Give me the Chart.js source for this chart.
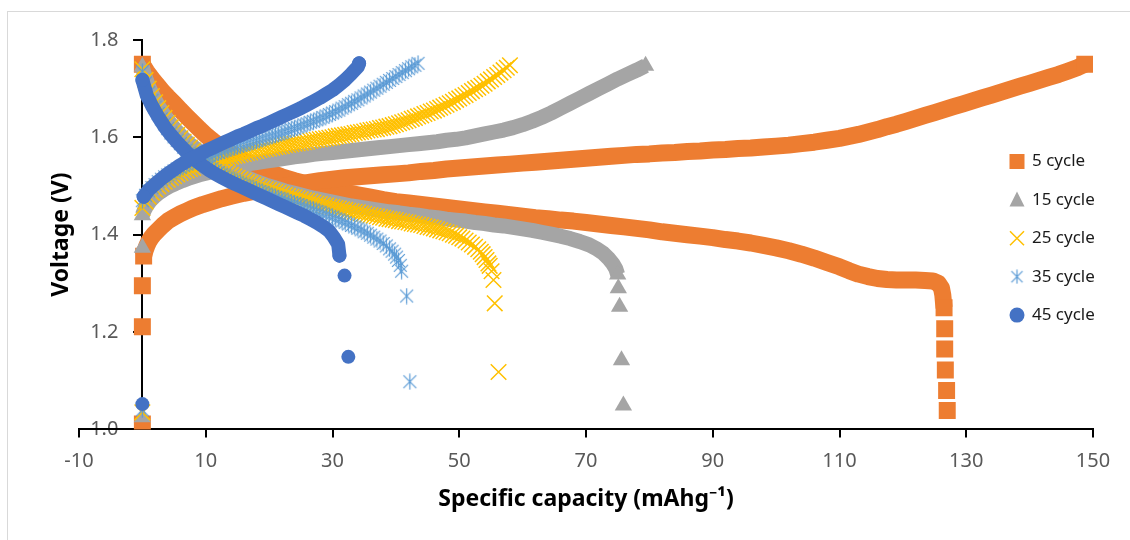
<!DOCTYPE html>
<html>
<head>
<meta charset="utf-8">
<title>Voltage vs specific capacity</title>
<script src="https://cdn.jsdelivr.net/npm/chart.js@4.4.1/dist/chart.umd.min.js"></script>
<style>
  html, body { margin: 0; padding: 0; background: #fff; }
  #wrap { width: 1130px; height: 540px; }
</style>
</head>
<body>
<div id="wrap"><canvas id="cap-chart" width="1130" height="540"></canvas></div>
<script>
/* ============================================
   Charge / discharge curves, cycles 5 - 45
   ============================================ */

const seriesNames = ['5 cycle', '15 cycle', '25 cycle', '35 cycle', '45 cycle'];

// [specific capacity (mAh/g), voltage (V)]
// chgN / disN = continuous runs of markers, loneN = isolated markers
const chg5 = [[0.2,1.356],[0.4,1.366],[0.7,1.377],[1,1.386],[1.4,1.394],[1.9,1.402],[2.5,1.41],[3.2,1.419],[4,1.428],[5,1.436],[6,1.443],[7,1.449],[8,1.455],[9.5,1.462],[11,1.468],[12.5,1.474],[14,1.479],[16,1.485],[18,1.49],[20,1.495],[22,1.499],[24,1.503],[26,1.507],[28,1.511],[30,1.514],[32,1.517],[34,1.519],[36,1.521],[38,1.523],[40,1.525],[42,1.527],[44,1.53],[46,1.532],[48,1.535],[50,1.537],[52,1.539],[54,1.541],[56,1.543],[58,1.545],[60,1.547],[62,1.549],[64,1.551],[66,1.553],[68,1.555],[70,1.557],[72,1.559],[74,1.561],[76,1.563],[78,1.565],[80,1.566],[82,1.568],[84,1.569],[86,1.571],[88,1.572],[90,1.574],[92,1.575],[94,1.577],[96,1.578],[98,1.58],[100,1.582],[102,1.584],[104,1.587],[106,1.59],[108,1.594],[110,1.598],[111.5,1.602],[113,1.606],[114.5,1.611],[116,1.616],[117.5,1.622],[119,1.627],[120.5,1.633],[122,1.639],[123.5,1.645],[125,1.651],[126.5,1.657],[128,1.663],[129.5,1.669],[131,1.675],[132.5,1.681],[134,1.687],[135.5,1.693],[137,1.699],[138.5,1.705],[140,1.711],[141.5,1.717],[143,1.723],[144.5,1.729],[146,1.736],[147.5,1.743],[148.7,1.75]];
const dis5 = [[0,1.75],[0.3,1.743],[0.7,1.735],[1.2,1.726],[1.8,1.716],[2.5,1.705],[3.2,1.694],[4,1.683],[5,1.67],[6,1.656],[7,1.643],[8,1.63],[9,1.617],[10,1.605],[11,1.594],[12,1.584],[13,1.575],[14.5,1.563],[16,1.552],[17.5,1.542],[19,1.534],[20.5,1.526],[22,1.519],[24,1.511],[26,1.504],[28,1.498],[30,1.492],[32,1.487],[34,1.482],[36,1.477],[38,1.472],[40,1.468],[42,1.465],[44,1.462],[46,1.459],[48,1.456],[50,1.453],[52,1.45],[54,1.447],[56,1.444],[58,1.441],[60,1.438],[62,1.435],[64,1.433],[66,1.43],[68,1.428],[70,1.425],[72,1.422],[74,1.419],[76,1.416],[78,1.413],[80,1.41],[82,1.406],[84,1.403],[86,1.4],[88,1.397],[90,1.394],[92,1.39],[94,1.387],[96,1.383],[98,1.378],[100,1.373],[102,1.367],[104,1.36],[106,1.352],[108,1.343],[110,1.334],[111.5,1.326],[113,1.319],[114.5,1.314],[116,1.31],[117.5,1.308],[119,1.307],[120.5,1.307],[122,1.307],[123.5,1.306],[124.7,1.305],[125.6,1.3],[126.1,1.29],[126.3,1.276],[126.4,1.262],[126.5,1.25]];
const lone5 = [[0,1.011],[0,1.211],[0,1.295],[126.6,1.207],[126.6,1.165],[126.7,1.122],[126.9,1.08],[127,1.039]];

const chg15 = [[0,1.44],[0.3,1.45],[0.7,1.46],[1.2,1.469],[1.8,1.477],[2.5,1.485],[3.3,1.492],[4.2,1.499],[5.2,1.505],[6.3,1.511],[7.5,1.517],[9,1.523],[10.5,1.528],[12,1.533],[13.5,1.537],[15,1.541],[16.5,1.545],[18,1.548],[19.5,1.551],[21,1.554],[22.5,1.557],[24,1.56],[25.5,1.562],[27,1.565],[28.5,1.567],[30,1.569],[31.5,1.571],[33,1.573],[34.5,1.575],[36,1.577],[37.5,1.579],[39,1.581],[40.5,1.583],[42,1.585],[43.5,1.587],[45,1.589],[46.5,1.591],[48,1.594],[49.5,1.596],[51,1.599],[52.5,1.603],[54,1.607],[55.5,1.611],[57,1.615],[58.5,1.62],[60,1.626],[61.5,1.633],[63,1.641],[64.5,1.65],[66,1.66],[67.5,1.67],[69,1.68],[70.5,1.69],[72,1.7],[73.5,1.71],[75,1.72],[76.5,1.729],[78,1.738],[79.4,1.747]];
const dis15 = [[0,1.745],[0.3,1.73],[0.7,1.715],[1.2,1.698],[1.8,1.682],[2.5,1.665],[3.3,1.648],[4.2,1.632],[5.2,1.616],[6.3,1.601],[7.5,1.586],[9,1.571],[10.5,1.557],[12,1.545],[13.5,1.535],[15,1.525],[16.5,1.517],[18,1.509],[19.5,1.502],[21,1.496],[22.5,1.49],[24,1.485],[25.5,1.48],[27,1.475],[28.5,1.471],[30,1.467],[31.5,1.463],[33,1.459],[34.5,1.456],[36,1.453],[37.5,1.45],[39,1.447],[40.5,1.445],[42,1.442],[43.5,1.44],[45,1.437],[46.5,1.435],[48,1.432],[49.5,1.43],[51,1.428],[52.5,1.425],[54,1.423],[55.5,1.42],[57,1.418],[58.5,1.415],[60,1.412],[61.5,1.409],[63,1.405],[64.5,1.401],[66,1.397],[67.5,1.392],[69,1.386],[70.5,1.379],[71.7,1.371],[72.7,1.362],[73.5,1.352],[74.2,1.341],[74.7,1.33],[75,1.318]];
const lone15 = [[0,1.025],[0,1.373],[75.1,1.29],[75.3,1.252],[75.6,1.142],[75.9,1.049]];

const chg25 = [[0,1.455],[0.5,1.468],[1,1.478],[1.5,1.486],[2,1.493],[2.5,1.499],[3,1.504],[3.5,1.509],[4,1.513],[4.5,1.517],[5,1.52],[5.5,1.524],[6,1.527],[6.5,1.53],[7,1.532],[7.5,1.535],[8,1.537],[8.5,1.54],[9,1.542],[9.5,1.544],[10,1.546],[10.5,1.548],[11,1.55],[11.5,1.552],[12,1.553],[12.5,1.555],[13,1.557],[13.5,1.559],[14,1.56],[14.5,1.562],[15,1.563],[15.5,1.565],[16,1.566],[16.5,1.568],[17,1.569],[17.5,1.571],[18,1.572],[18.5,1.574],[19,1.575],[19.5,1.576],[20,1.577],[20.5,1.579],[21,1.58],[21.5,1.581],[22,1.582],[22.5,1.584],[23,1.585],[23.5,1.586],[24,1.587],[24.5,1.588],[25,1.589],[25.5,1.59],[26,1.591],[26.5,1.593],[27,1.594],[27.5,1.595],[28,1.596],[28.5,1.597],[29,1.598],[29.5,1.599],[30,1.6],[30.5,1.602],[31,1.603],[31.5,1.604],[32,1.605],[32.5,1.606],[33,1.607],[33.5,1.609],[34,1.61],[34.5,1.611],[35,1.612],[35.5,1.614],[36,1.615],[36.5,1.616],[37,1.617],[37.5,1.619],[38,1.62],[38.5,1.622],[39,1.623],[39.5,1.625],[40,1.627],[40.5,1.629],[41,1.631],[41.5,1.633],[42,1.635],[42.5,1.638],[43,1.64],[43.5,1.643],[44,1.645],[44.5,1.648],[45,1.65],[45.5,1.653],[46,1.655],[46.5,1.658],[47,1.661],[47.5,1.664],[48,1.667],[48.5,1.67],[49,1.673],[49.5,1.677],[50,1.68],[50.5,1.684],[51,1.687],[51.5,1.691],[52,1.695],[52.5,1.699],[53,1.702],[53.5,1.706],[54,1.71],[54.5,1.715],[55,1.719],[55.5,1.724],[56,1.728],[56.5,1.733],[57,1.738],[57.5,1.743],[58,1.748]];
const dis25 = [[0,1.74],[0.5,1.718],[1,1.7],[1.5,1.685],[2,1.672],[2.5,1.66],[3,1.65],[3.5,1.64],[4,1.63],[4.5,1.621],[5,1.613],[5.5,1.605],[6,1.598],[6.5,1.591],[7,1.585],[7.5,1.579],[8,1.573],[8.5,1.568],[9,1.563],[9.5,1.558],[10,1.553],[10.5,1.549],[11,1.545],[11.5,1.541],[12,1.537],[12.5,1.533],[13,1.53],[13.5,1.526],[14,1.523],[14.5,1.52],[15,1.517],[15.5,1.514],[16,1.511],[16.5,1.508],[17,1.506],[17.5,1.503],[18,1.501],[18.5,1.498],[19,1.496],[19.5,1.494],[20,1.492],[20.5,1.49],[21,1.488],[21.5,1.486],[22,1.484],[22.5,1.482],[23,1.48],[23.5,1.478],[24,1.477],[24.5,1.475],[25,1.473],[25.5,1.471],[26,1.47],[26.5,1.468],[27,1.466],[27.5,1.464],[28,1.463],[28.5,1.461],[29,1.46],[29.5,1.458],[30,1.457],[30.5,1.455],[31,1.454],[31.5,1.452],[32,1.451],[32.5,1.449],[33,1.448],[33.5,1.447],[34,1.446],[34.5,1.444],[35,1.443],[35.5,1.441],[36,1.44],[36.5,1.439],[37,1.438],[37.5,1.436],[38,1.435],[38.5,1.433],[39,1.432],[39.5,1.431],[40,1.43],[40.5,1.428],[41,1.427],[41.5,1.426],[42,1.425],[42.5,1.423],[43,1.422],[43.5,1.421],[44,1.42],[44.5,1.418],[45,1.416],[45.5,1.415],[46,1.413],[46.5,1.411],[47,1.409],[47.5,1.407],[48,1.405],[48.5,1.403],[49,1.4],[49.5,1.398],[50,1.395],[50.5,1.392],[51,1.388],[51.5,1.384],[52,1.38],[52.5,1.375],[53,1.37],[53.4,1.365],[53.7,1.36],[54,1.354],[54.3,1.348],[54.6,1.341],[54.8,1.336],[55.1,1.325]];
const lone25 = [[0,1.035],[55.4,1.307],[55.6,1.259],[56.2,1.118]];

const chg35 = [[0,1.47],[0.5,1.481],[1,1.49],[1.5,1.497],[2,1.503],[2.5,1.509],[3,1.514],[3.5,1.519],[4,1.523],[4.5,1.527],[5,1.531],[5.5,1.535],[6,1.538],[6.5,1.542],[7,1.545],[7.5,1.548],[8,1.551],[8.5,1.554],[9,1.556],[9.5,1.559],[10,1.561],[10.5,1.563],[11,1.565],[11.5,1.567],[12,1.569],[12.5,1.572],[13,1.574],[13.5,1.576],[14,1.578],[14.5,1.58],[15,1.582],[15.5,1.584],[16,1.585],[16.5,1.587],[17,1.589],[17.5,1.591],[18,1.593],[18.5,1.595],[19,1.597],[19.5,1.599],[20,1.601],[20.5,1.603],[21,1.605],[21.5,1.607],[22,1.609],[22.5,1.612],[23,1.614],[23.5,1.616],[24,1.618],[24.5,1.621],[25,1.623],[25.5,1.626],[26,1.628],[26.5,1.631],[27,1.633],[27.5,1.636],[28,1.638],[28.5,1.641],[29,1.644],[29.5,1.647],[30,1.65],[30.5,1.653],[31,1.656],[31.5,1.66],[32,1.663],[32.5,1.667],[33,1.67],[33.5,1.674],[34,1.677],[34.5,1.681],[35,1.685],[35.5,1.689],[36,1.693],[36.5,1.697],[37,1.701],[37.5,1.705],[38,1.709],[38.5,1.713],[39,1.717],[39.5,1.721],[40,1.725],[40.5,1.729],[41,1.733],[41.5,1.737],[42,1.741],[42.5,1.745],[43,1.748],[43.5,1.752]];
const dis35 = [[0,1.735],[0.5,1.712],[1,1.692],[1.5,1.676],[2,1.662],[2.5,1.649],[3,1.638],[3.5,1.628],[4,1.618],[4.5,1.609],[5,1.601],[5.5,1.594],[6,1.587],[6.5,1.58],[7,1.574],[7.5,1.568],[8,1.563],[8.5,1.558],[9,1.553],[9.5,1.548],[10,1.544],[10.5,1.54],[11,1.536],[11.5,1.532],[12,1.528],[12.5,1.524],[13,1.521],[13.5,1.517],[14,1.514],[14.5,1.511],[15,1.508],[15.5,1.505],[16,1.502],[16.5,1.5],[17,1.497],[17.5,1.494],[18,1.492],[18.5,1.489],[19,1.487],[19.5,1.484],[20,1.482],[20.5,1.479],[21,1.477],[21.5,1.475],[22,1.473],[22.5,1.47],[23,1.468],[23.5,1.466],[24,1.464],[24.5,1.462],[25,1.46],[25.5,1.457],[26,1.455],[26.5,1.453],[27,1.451],[27.5,1.448],[28,1.446],[28.5,1.443],[29,1.441],[29.5,1.438],[30,1.436],[30.5,1.433],[31,1.431],[31.5,1.428],[32,1.425],[32.5,1.422],[33,1.419],[33.5,1.416],[34,1.413],[34.5,1.41],[35,1.406],[35.5,1.403],[36,1.399],[36.5,1.395],[37,1.391],[37.5,1.387],[38,1.382],[38.5,1.377],[39,1.371],[39.4,1.366],[39.8,1.36],[40.1,1.354],[40.4,1.347],[40.7,1.337],[40.9,1.325]];
const lone35 = [[0,1.04],[41.7,1.274],[42.2,1.098]];

const chg45 = [[0.2,1.478],[1,1.492],[2,1.504],[3,1.515],[4,1.525],[5,1.534],[6,1.543],[7,1.551],[8,1.558],[9,1.565],[10,1.572],[11,1.578],[12,1.584],[13,1.59],[14,1.596],[15,1.602],[16,1.607],[17,1.613],[18,1.619],[19,1.624],[20,1.63],[21,1.636],[22,1.642],[23,1.648],[24,1.654],[25,1.66],[26,1.667],[27,1.674],[28,1.681],[29,1.689],[30,1.697],[31,1.707],[32,1.718],[33,1.731],[34,1.745],[34.2,1.752]];
const dis45 = [[0,1.718],[0.7,1.686],[1.5,1.665],[2.5,1.642],[3.5,1.622],[4.5,1.605],[5.5,1.59],[6.5,1.576],[7.5,1.563],[8.5,1.552],[9.5,1.542],[10.5,1.533],[11.5,1.525],[12.5,1.518],[13.5,1.511],[14.5,1.505],[15.5,1.499],[16.5,1.493],[17.5,1.487],[18.5,1.481],[19.5,1.475],[20.5,1.469],[21.5,1.463],[22.5,1.457],[23.5,1.451],[24.5,1.445],[25.5,1.439],[26.5,1.432],[27.5,1.425],[28.5,1.417],[29.5,1.407],[30.2,1.395],[30.9,1.38],[31.1,1.357]];
const lone45 = [[0,1.052],[31.9,1.316],[32.5,1.149]];

const capRange = [-10, 150];
const voltRange = [1.0, 1.8];

// Excel-style asterisk marker (vertical bar + X)
function makeAsterisk(size, color, lw) {
    const c = document.createElement('canvas');
    c.width = size; c.height = size;
    const g = c.getContext('2d');
    const m = size / 2, a = size / 2 - 0.5, d = a * 0.8;
    g.strokeStyle = color;
    g.lineWidth = lw;
    g.beginPath();
    g.moveTo(m, m - a); g.lineTo(m, m + a);
    g.moveTo(m - d, m - d); g.lineTo(m + d, m + d);
    g.moveTo(m + d, m - d); g.lineTo(m - d, m + d);
    g.stroke();
    return c;
}

const starMark = makeAsterisk(17, '#5B9BD5', 1.2);
const starLegend = makeAsterisk(15, '#5B9BD5', 1.2);

// band = width of the solid trail the packed markers leave (0 = hollow marker, no trail)
const styles = [
    { color: '#ED7D31', pointStyle: 'rect', radius: 12, borderWidth: 0, band: 17, cap: 'butt' },
    { color: '#A5A5A5', pointStyle: 'triangle', radius: 10, borderWidth: 0, band: 15, cap: 'butt' },
    { color: '#FFC000', pointStyle: 'crossRot', radius: 11, borderWidth: 1.5, band: 0 },
    { color: '#5B9BD5', pointStyle: starMark, radius: 9, borderWidth: 1.2, band: 0 },
    { color: '#4472C4', pointStyle: 'circle', radius: 7, borderWidth: 0, band: 14, cap: 'round' }
];

const curves = [
    [chg5, dis5, lone5], [chg15, dis15, lone15], [chg25, dis25, lone25],
    [chg35, dis35, lone35], [chg45, dis45, lone45]
];
const toPts = arr => arr.map(([x, y]) => ({ x, y }));
const ends = run => [run[0], run[run.length - 1]];

const datasets = [];
seriesNames.forEach((name, i) => {
    const st = styles[i];
    const [chg, dis, lone] = curves[i];
    const rank = 2 * (seriesNames.length - i);   // later cycles drawn on top, like Excel
    // solid markers: the run is drawn as a trail, markers only where they stand out
    const marks = st.band ? lone.concat(ends(chg), ends(dis)) : chg.concat(dis, lone);
    datasets.push({
        label: name,
        data: toPts(marks),
        pointStyle: st.pointStyle,
        pointRadius: st.radius,
        pointBackgroundColor: st.color,
        pointBorderColor: st.color,
        pointBorderWidth: st.borderWidth,
        showLine: false,
        order: rank - 1
    });
    if (st.band) {
        [chg, dis].forEach(run => datasets.push({
            label: name + ' trail',
            data: toPts(run),
            showLine: true,
            pointRadius: 0,
            borderColor: st.color,
            borderWidth: st.band,
            borderCapStyle: st.cap,
            borderJoinStyle: 'round',
            tension: 0,
            order: rank
        }));
    }
});

// outer frame, y tick labels and y title (the y axis crosses at x = 0)
const axisDecor = {
    id: 'axisDecor',
    beforeDraw(chart) {
        const { ctx, chartArea } = chart;
        const xs = chart.scales.x, ys = chart.scales.y;
        ctx.save();
        ctx.strokeStyle = '#d9d9d9';
        ctx.lineWidth = 1;
        ctx.strokeRect(7.5, 11.5, chart.width, chart.height);

        const x0 = xs.getPixelForValue(0);
        ctx.font = '20px "Noto Sans"';
        ctx.fillStyle = '#595959';
        ctx.textAlign = 'right';
        ctx.textBaseline = 'middle';
        ys.ticks.forEach(t => ctx.fillText(t.value.toFixed(1), x0 - 24, ys.getPixelForValue(t.value)));

        ctx.translate(61, (chartArea.top + chartArea.bottom) / 2);
        ctx.rotate(-Math.PI / 2);
        ctx.font = 'bold 23px "Noto Sans"';
        ctx.fillStyle = '#000';
        ctx.textAlign = 'center';
        ctx.fillText('Voltage (V)', 0, 0);
        ctx.restore();
    }
};

// legend sits inside the plot, right side
const sideLegend = {
    id: 'sideLegend',
    afterDraw(chart) {
        const ctx = chart.ctx;
        ctx.save();
        ctx.font = '17px "Noto Sans"';
        ctx.textAlign = 'left';
        ctx.textBaseline = 'middle';
        seriesNames.forEach((name, i) => {
            const st = styles[i];
            const cx = 1017, cy = 161.5 + i * 38.4;
            ctx.fillStyle = st.color;
            ctx.strokeStyle = st.color;
            ctx.lineWidth = st.borderWidth || 1;
            ctx.beginPath();
            if (st.pointStyle === 'rect') {
                ctx.fillRect(cx - 7.5, cy - 7.5, 15, 15);
            } else if (st.pointStyle === 'triangle') {
                ctx.moveTo(cx, cy - 8.5); ctx.lineTo(cx + 7.5, cy + 6.5); ctx.lineTo(cx - 7.5, cy + 6.5);
                ctx.closePath(); ctx.fill();
            } else if (st.pointStyle === 'crossRot') {
                ctx.moveTo(cx - 7, cy - 7); ctx.lineTo(cx + 7, cy + 7);
                ctx.moveTo(cx + 7, cy - 7); ctx.lineTo(cx - 7, cy + 7);
                ctx.stroke();
            } else if (st.pointStyle === 'circle') {
                ctx.arc(cx, cy, 7.5, 0, Math.PI * 2); ctx.fill();
            } else {
                ctx.drawImage(starLegend, cx - 7.5, cy - 7.5);
            }
            ctx.fillStyle = '#1a1a1a';
            ctx.fillText(name, 1032, cy);
        });
        ctx.restore();
    }
};

Chart.defaults.font.family = '"Noto Sans", sans-serif';

new Chart(document.getElementById('cap-chart'), {
    type: 'scatter',
    data: { datasets },
    options: {
        responsive: false,
        devicePixelRatio: 1,
        animation: false,
        events: [],
        layout: { padding: { left: 79, right: 37, top: 40, bottom: 27 } },
        plugins: { legend: { display: false }, tooltip: { enabled: false } },
        scales: {
            x: {
                type: 'linear', position: 'bottom',
                min: capRange[0], max: capRange[1],
                ticks: { stepSize: 20, color: '#595959', font: { size: 20 }, padding: 12 },
                grid: { drawOnChartArea: false, drawTicks: true, tickLength: 8, color: '#000', lineWidth: 2 },
                border: { display: true, color: '#000', width: 2 },
                title: { display: true, text: 'Specific capacity (mAhg⁻¹)', color: '#000', font: { size: 23, weight: 'bold' }, padding: { top: 0, bottom: 0 } }
            },
            y: {
                type: 'linear', position: { x: 0 },
                min: voltRange[0], max: voltRange[1],
                ticks: { stepSize: 0.2, display: false },
                grid: { drawOnChartArea: false, drawTicks: true, tickLength: 8, color: '#000', lineWidth: 2 },
                border: { display: true, color: '#000', width: 2 },
                title: { display: false }
            }
        }
    },
    plugins: [axisDecor, sideLegend]
});
</script>
</body>
</html>
